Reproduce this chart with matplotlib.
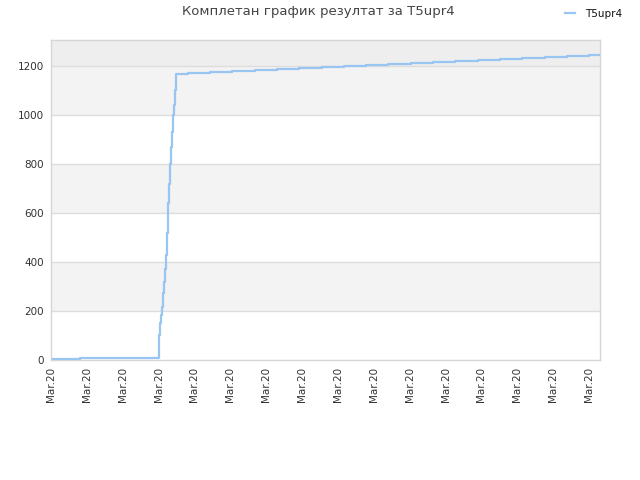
import matplotlib
matplotlib.use("Agg")
import matplotlib.pyplot as plt
from matplotlib.lines import Line2D

title = "Комплетан график резултат за T5upr4"
series_name = "T5upr4"
tick_labels = ["Mar.20"] * 16
tick_pos = list(range(16))

# step positions (in tick units) and cumulative values
x_vals = [0.056, 0.81, 2.29,
          3.01, 3.02, 3.04, 3.06, 3.09, 3.12, 3.15, 3.18, 3.20, 3.23, 3.26,
          3.29, 3.32, 3.34, 3.37, 3.40, 3.43, 3.46, 3.48,
          3.82, 4.43, 5.05, 5.69, 6.30, 6.91, 7.56, 8.17, 8.78, 9.40,
          10.04, 10.65, 11.26, 11.90, 12.52, 13.13, 13.77, 14.39, 15.00, 15.31]
y_vals = [3, 7, 10,
          70, 100, 150, 185, 218, 272, 320, 370, 430, 520, 640,
          720, 800, 870, 930, 1000, 1040, 1100, 1168,
          1173, 1177, 1181, 1185, 1189, 1193, 1197, 1201, 1204, 1208,
          1212, 1216, 1220, 1224, 1229, 1233, 1237, 1241, 1245, 1245]

fig = plt.figure(figsize=(6.4, 4.8), dpi=100)
ax = fig.add_axes([51/640, 1-360/480, 549/640, 320/480])

ymax = 1306
# alternating bands
bands = [(200, 400, "#f3f3f3"), (600, 800, "#f3f3f3"), (1000, 1200, "#f3f3f3"), (1200, ymax, "#eeeeee")]
for lo, hi, c in bands:
    ax.axhspan(lo, hi, color=c, zorder=0, lw=0)
for yv in range(200, 1400, 200):
    ax.axhline(yv, color="#dddddd", lw=1, zorder=1)

ax.plot(x_vals, y_vals, drawstyle="steps-post", color="#99c5f2", lw=1.6, zorder=3)

ax.set_xlim(0, 549/35.87)
ax.set_ylim(0, ymax)
ax.set_yticks(range(0, 1400, 200))
ax.set_xticks(tick_pos)
ax.set_xticklabels(tick_labels, rotation=90)
ax.tick_params(axis="both", length=0, labelsize=7.5, colors="#333333", pad=5)
for s in ax.spines.values():
    s.set_color("#d6d6d6")
    s.set_linewidth(1)

fig.text(318/640, 1-12/480, title, ha="center", va="center", fontsize=9.5, color="#444444")
fig.legend([Line2D([0], [0], color="#99c5f2", lw=1.6)], [series_name],
           loc="center right", bbox_to_anchor=(632/640, 1-14/480), frameon=False,
           fontsize=7.5, handlelength=1.0, handletextpad=1.0, labelcolor="#111111")

fig.savefig("out.png", dpi=100)
